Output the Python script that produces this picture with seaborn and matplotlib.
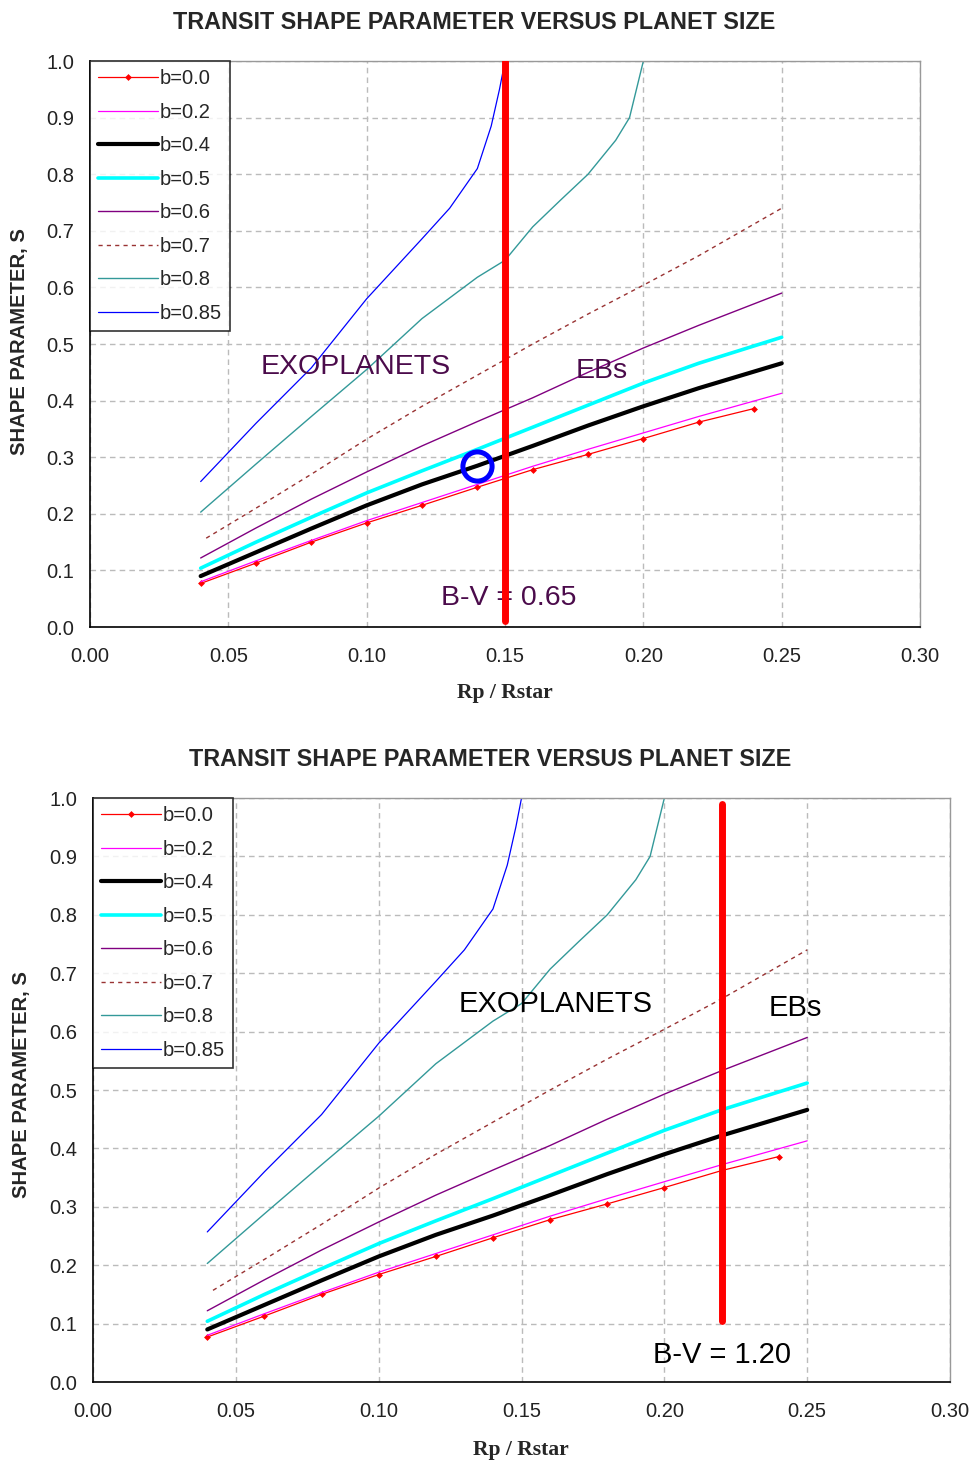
import matplotlib
matplotlib.use("Agg")
import matplotlib.pyplot as plt
import seaborn as sns
from matplotlib.ticker import FormatStrFormatter, MultipleLocator

# Rp/Rstar grids and shape parameter S for each impact parameter b
x_b00 = [0.04, 0.06, 0.08, 0.10, 0.12, 0.14, 0.16, 0.18, 0.20, 0.22, 0.24]
s_b00 = [0.077, 0.113, 0.150, 0.184, 0.215, 0.247, 0.278, 0.305, 0.333, 0.362, 0.386]

x_std = [0.04, 0.06, 0.08, 0.10, 0.12, 0.14, 0.16, 0.18, 0.20, 0.22, 0.25]
s_b02 = [0.080, 0.117, 0.153, 0.188, 0.220, 0.252, 0.284, 0.314, 0.343, 0.372, 0.413]
s_b04 = [0.090, 0.132, 0.174, 0.215, 0.252, 0.285, 0.320, 0.356, 0.390, 0.422, 0.466]
s_b05 = [0.104, 0.150, 0.194, 0.237, 0.276, 0.314, 0.353, 0.392, 0.431, 0.466, 0.512]
s_b06 = [0.122, 0.175, 0.226, 0.274, 0.320, 0.363, 0.405, 0.450, 0.493, 0.533, 0.590]

x_b07 = [0.042, 0.06, 0.08, 0.10, 0.12, 0.14, 0.16, 0.18, 0.20, 0.22, 0.25]
s_b07 = [0.157, 0.210, 0.270, 0.332, 0.390, 0.445, 0.500, 0.553, 0.604, 0.656, 0.740]

x_b08 = [0.04, 0.06, 0.08, 0.10, 0.12, 0.14, 0.15, 0.16, 0.17, 0.18, 0.19, 0.195, 0.20]
s_b08 = [0.203, 0.288, 0.372, 0.455, 0.545, 0.618, 0.648, 0.707, 0.754, 0.800, 0.860, 0.900, 1.0]

x_b085 = [0.04, 0.06, 0.08, 0.10, 0.12, 0.13, 0.14, 0.145, 0.148, 0.15]
s_b085 = [0.257, 0.360, 0.458, 0.580, 0.686, 0.740, 0.810, 0.885, 0.950, 1.0]

labels = ["b=0.0", "b=0.2", "b=0.4", "b=0.5", "b=0.6", "b=0.7", "b=0.8", "b=0.85"]

# B-V cut lines (x, y-range) and the marked point
cut_top_x = [0.15, 0.15]
cut_top_y = [0.01, 1.0]
cut_bot_x = [0.22, 0.22]
cut_bot_y = [0.105, 0.99]
circle_x = [0.14]
circle_y = [0.285]

sns.set_style("white")
plt.rcParams['font.family'] = ['Liberation Sans', 'DejaVu Sans']

fig = plt.figure(figsize=(9.74, 14.64), dpi=100)
ax1 = fig.add_axes([0.0924, 0.5717, 0.8522, 0.3866])
ax2 = fig.add_axes([0.0955, 0.0560, 0.8799, 0.3989])


def draw_curves(ax):
    sns.lineplot(x=x_b00, y=s_b00, ax=ax, color="#FF0000", lw=0.9, marker="D",
                 markersize=3.5, markeredgewidth=0, label=labels[0])
    sns.lineplot(x=x_std, y=s_b02, ax=ax, color="#FF00FF", lw=0.9, label=labels[1])
    sns.lineplot(x=x_std, y=s_b04, ax=ax, color="black", lw=3.0, label=labels[2])
    sns.lineplot(x=x_std, y=s_b05, ax=ax, color="#00FFFF", lw=2.6, label=labels[3])
    sns.lineplot(x=x_std, y=s_b06, ax=ax, color="#800080", lw=1.0, label=labels[4])
    sns.lineplot(x=x_b07, y=s_b07, ax=ax, color="#993333", lw=1.0,
                 linestyle=(0, (3, 3)), label=labels[5])
    sns.lineplot(x=x_b08, y=s_b08, ax=ax, color="#339999", lw=1.0, label=labels[6])
    sns.lineplot(x=x_b085, y=s_b085, ax=ax, color="#0000FF", lw=0.9, label=labels[7])


def style_axes(ax):
    ax.set_xlim(0, 0.30)
    ax.set_ylim(0, 1.0)
    ax.xaxis.set_major_locator(MultipleLocator(0.05))
    ax.yaxis.set_major_locator(MultipleLocator(0.1))
    ax.xaxis.set_major_formatter(FormatStrFormatter("%.2f"))
    ax.yaxis.set_major_formatter(FormatStrFormatter("%.1f"))
    ax.grid(True, color="#BBBBBB", lw=1.0, linestyle=(0, (4, 3)))
    ax.set_axisbelow(True)
    for side in ["left", "bottom"]:
        ax.spines[side].set_color("black")
        ax.spines[side].set_linewidth(1.2)
    for side in ["top", "right"]:
        ax.spines[side].set_color("#999999")
        ax.spines[side].set_linewidth(1.0)
    ax.tick_params(axis="both", direction="inout", length=7, width=1.2,
                   labelsize=14.5, colors="black", labelcolor="#222222")
    ax.tick_params(axis="x", pad=11)
    ax.tick_params(axis="y", pad=8)
    ax.tick_params(top=False, right=False)
    ax.set_xlabel("")
    ax.set_ylabel("")
    leg = ax.legend(loc="upper left", fontsize=14.5, frameon=True, fancybox=False,
                    handlelength=3.0, handletextpad=0.05, labelspacing=0.72,
                    borderpad=0.4, borderaxespad=0.0)
    leg.get_frame().set_edgecolor("black")
    leg.get_frame().set_linewidth(1.2)


# top chart
draw_curves(ax1)
ax1.plot(cut_top_x, cut_top_y, color="#FF0000", lw=5.0, zorder=5)
ax1.plot(circle_x, circle_y, marker="o", markersize=21, markerfacecolor="none",
         markeredgecolor="#0000FF", markeredgewidth=3.6, zorder=6)
style_axes(ax1)
txt_purple = "#4B0B4B"
ax1.text(0.096, 0.459, "EXOPLANETS", fontsize=20.5, color=txt_purple, ha="center", va="center")
ax1.text(0.185, 0.452, "EBs", fontsize=20.5, color=txt_purple, ha="center", va="center")
ax1.text(0.1515, 0.051, "B-V = 0.65", fontsize=20.5, color=txt_purple, ha="center", va="center")

# bottom chart
draw_curves(ax2)
ax2.plot(cut_bot_x, cut_bot_y, color="#FF0000", lw=5.0, zorder=5)
style_axes(ax2)
ax2.text(0.162, 0.647, "EXOPLANETS", fontsize=21, color="black", ha="center", va="center")
ax2.text(0.246, 0.640, "EBs", fontsize=21, color="black", ha="center", va="center")
ax2.text(0.220, 0.046, "B-V = 1.20", fontsize=21, color="black", ha="center", va="center")

# titles and axis labels
title = "TRANSIT SHAPE PARAMETER VERSUS PLANET SIZE"
fig.text(0.4867, 0.9843, title, fontsize=16.8, fontweight="bold", ha="center", va="center")
fig.text(0.503, 0.4809, title, fontsize=16.8, fontweight="bold", ha="center", va="center")
fig.text(0.0205, 0.767, "SHAPE PARAMETER, S", fontsize=14.6, fontweight="bold",
         rotation=90, ha="center", va="center")
fig.text(0.0225, 0.259, "SHAPE PARAMETER, S", fontsize=14.6, fontweight="bold",
         rotation=90, ha="center", va="center")
fig.text(0.5185, 0.5266, "Rp / Rstar", fontsize=15.6, fontweight="bold",
         family=["Liberation Serif", "DejaVu Serif"], ha="center", va="center")
fig.text(0.535, 0.0096, "Rp / Rstar", fontsize=15.6, fontweight="bold",
         family=["Liberation Serif", "DejaVu Serif"], ha="center", va="center")

fig.savefig("out.png", dpi=100)
